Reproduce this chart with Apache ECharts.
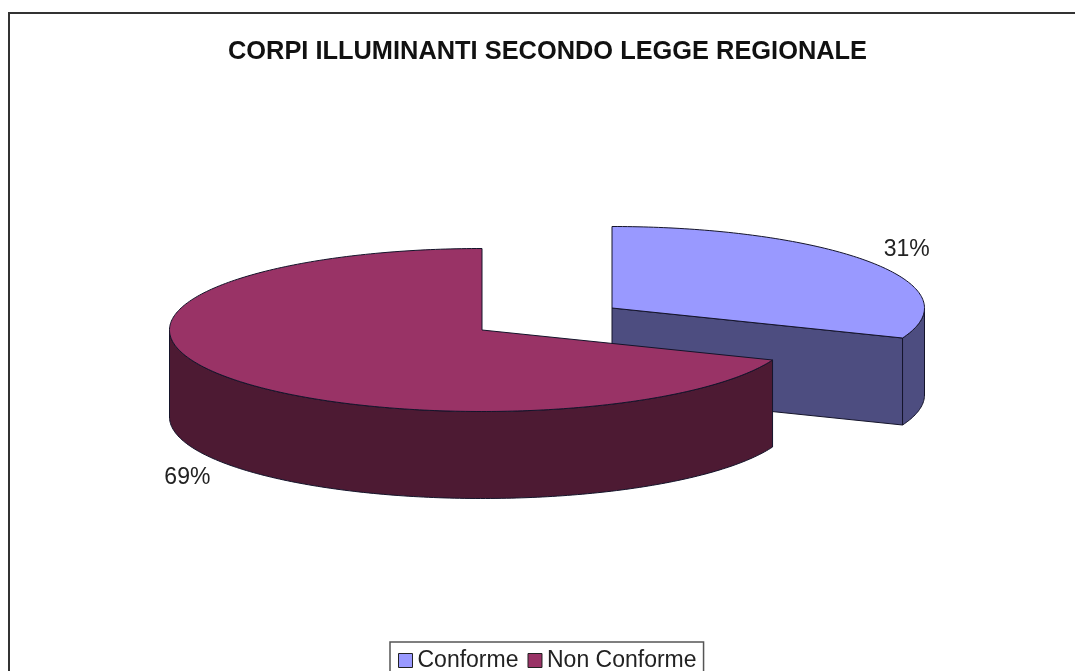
<!DOCTYPE html>
<html><head><meta charset="utf-8">
<style>html,body{margin:0;padding:0;background:#fff;overflow:hidden}#c{width:1075px;height:671px}</style>
<script src="https://cdn.jsdelivr.net/npm/echarts@6/dist/echarts.min.js"></script>
</head><body><div id="c"></div>
<script>
const titleText = 'CORPI ILLUMINANTI SECONDO LEGGE REGIONALE';
const categories = ['Conforme', 'Non Conforme'];
const values = [31, 69];
const topColors = ['#9999FF', '#993366'];
const sideColors = ['#4D4D80', '#4D1A33'];
const centers = [[612, 308], [482, 330]];
const RX = 312.5, RY = 81.5, DEPTH = 87, LINE = '#14142a';
const total = values.reduce((a, b) => a + b, 0);

function pt(c, th, dy) {
  return [c[0] + RX * Math.sin(th), c[1] - RY * Math.cos(th) + (dy || 0)];
}
function arc(c, a, b, dy) {
  const n = Math.max(2, Math.ceil(Math.abs(b - a) * 60)), out = [];
  for (let i = 0; i <= n; i++) out.push(pt(c, a + (b - a) * i / n, dy));
  return out;
}
function renderer(idx) {
  return function () {
    const before = values.slice(0, idx).reduce((a, b) => a + b, 0);
    const a = before / total * 2 * Math.PI;
    const b = (before + values[idx]) / total * 2 * Math.PI;
    const c = centers[idx], kids = [];
    const shapeStyle = { stroke: LINE, lineWidth: 1, lineJoin: 'round' };
    const poly = (points, fill) => ({
      type: 'polygon', shape: { points },
      style: Object.assign({ fill }, shapeStyle), silent: true
    });
    if (b < Math.PI) {
      const e = pt(c, b);
      kids.push(poly([c, e, [e[0], e[1] + DEPTH], [c[0], c[1] + DEPTH]], sideColors[idx]));
    }
    const w0 = Math.max(a, Math.PI / 2), w1 = Math.min(b, Math.PI * 1.5);
    if (w1 > w0) {
      kids.push(poly(arc(c, w0, w1, 0).concat(arc(c, w1, w0, DEPTH)), sideColors[idx]));
    }
    kids.push(poly([c].concat(arc(c, a, b, 0)), topColors[idx]));
    const m = (a + b) / 2;
    const lx = c[0] + RX * 1.14 * Math.sin(m);
    const ly = c[1] + 1 - RY * 1.3 * Math.cos(m) + (Math.cos(m) < 0 ? DEPTH : 0);
    kids.push({
      type: 'text', silent: true, z2: 10,
      style: {
        x: lx, y: ly, text: Math.round(values[idx] / total * 100) + '%',
        fill: '#222', font: '23px "Liberation Sans", Arial, sans-serif',
        align: 'center', verticalAlign: 'middle'
      }
    });
    return { type: 'group', children: kids };
  };
}
const chart = echarts.init(document.getElementById('c'), null, { renderer: 'canvas' });
chart.setOption({
  animation: false,
  backgroundColor: '#fff',
  title: {
    text: titleText, left: 542.5, top: 34, textAlign: 'center',
    textStyle: { fontFamily: '"Liberation Sans", Arial, sans-serif', fontSize: 25.4, fontWeight: 'bold', color: '#111' }
  },
  legend: {
    data: categories, left: 390, top: 642, orient: 'horizontal',
    padding: [7, 7, 5, 8], itemGap: 9, itemWidth: 14, itemHeight: 14,
    icon: 'rect', borderColor: '#555', borderWidth: 1.5, borderRadius: 0,
    itemStyle: { borderColor: '#222', borderWidth: 1 },
    selectedMode: false,
    textStyle: { fontFamily: '"Liberation Sans", Arial, sans-serif', fontSize: 23, color: '#222' }
  },
  graphic: [{
    type: 'rect', left: 8, top: 12, silent: true, z: -10,
    shape: { width: 1200, height: 800 },
    style: { fill: 'transparent', stroke: '#333', lineWidth: 2 }
  }],
  series: categories.map((name, i) => ({
    type: 'custom', name, coordinateSystem: 'none',
    renderItem: renderer(i), data: [[values[i]]],
    itemStyle: { color: topColors[i] }, silent: true, z: 2 + i, clip: false
  }))
});
</script></body></html>
